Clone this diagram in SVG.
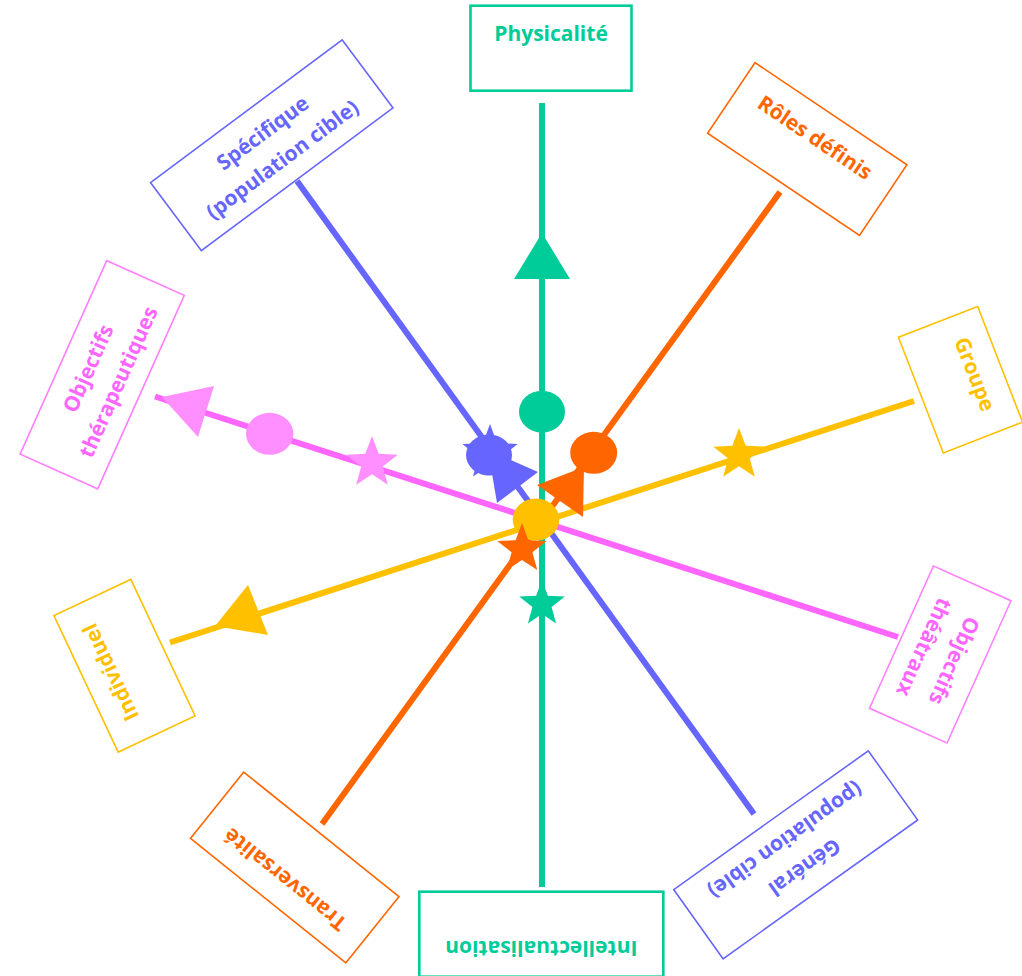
<svg xmlns="http://www.w3.org/2000/svg" xmlns:xlink="http://www.w3.org/1999/xlink" width="1022" height="976" viewBox="0 0 1022 976">
<style>
.lbl{font-family:"Open Sans","Liberation Sans",sans-serif;font-weight:700;font-size:21px;text-anchor:middle}
.box{fill:#fff;stroke-width:1.6}
.gbox{fill:#fff;stroke:#00CC99;stroke-width:2.6}
.ln{stroke-width:6;fill:none}
.green{fill:#00CC99}.blue{fill:#6666FF}.orange{fill:#FF6600}.pink{fill:#FF66FF}.pinkm{fill:#FF8FFF}.gold{fill:#FFC000}
</style>
<defs>
<path id="star" d="M0,-25 L6.17,-8.49 L23.78,-7.73 L9.99,3.24 L14.69,20.23 L0,10.5 L-14.69,20.23 L-9.99,3.24 L-23.78,-7.73 L-6.17,-8.49 Z"/>
</defs>
<rect width="1022" height="976" fill="#fff"/>

<g id="connectors">
<line class="ln" x1="542" y1="103" x2="542" y2="887" stroke="#00CC99"/>
<line class="ln" x1="297" y1="181" x2="754" y2="814" stroke="#6666FF"/>
<line class="ln" x1="780" y1="192" x2="322" y2="824" stroke="#FF6600"/>
<line class="ln" x1="155" y1="396.5" x2="898" y2="637" stroke="#FF66FF" stroke-width="5.5"/>
<line class="ln" x1="170" y1="642.5" x2="914" y2="401" stroke="#FFC000"/>
</g>

<g id="markers">
<polygon class="green" points="542,233 514,279 570,279"/>
<ellipse class="green" cx="542" cy="411.7" rx="23" ry="21"/>
<use xlink:href="#star" class="green" transform="translate(542,604) scale(0.96)"/>

<polygon class="pinkm" points="162,397 214,386 198,437"/>
<ellipse class="pinkm" cx="269.7" cy="433.8" rx="23.7" ry="21"/>
<use xlink:href="#star" class="pinkm" transform="translate(372,463) scale(1.08)"/>

<polygon class="gold" points="215,626 248,585 268,635"/>
<use xlink:href="#star" class="gold" transform="translate(739,455) scale(1.08)"/>

<use xlink:href="#star" class="blue" transform="translate(490,453) scale(1.16)"/>
<polygon class="blue" points="488,450 538,472 497,503"/>
<ellipse class="blue" cx="489" cy="455" rx="23" ry="20.5"/>

<polygon class="orange" points="537,485 584,467 583,517"/>
<ellipse class="orange" cx="593.7" cy="452.8" rx="23.5" ry="21"/>

<ellipse class="gold" cx="536" cy="519.5" rx="23.3" ry="21"/>
<use xlink:href="#star" class="orange" transform="translate(522,549) scale(1.04)"/>
</g>

<g id="node-physicalite" transform="translate(551,48.2)">
<rect class="gbox" x="-80.5" y="-42.5" width="161" height="85"/>
<text class="lbl green" x="0" y="-7.5">Physicalité</text>
</g>

<g id="node-intellectualisation" transform="translate(541.3,934.2) rotate(180)">
<rect class="gbox" x="-122" y="-42.5" width="244" height="85"/>
<text class="lbl green" x="0" y="-7">Intellectualisation</text>
</g>

<g id="node-specifique" transform="translate(271.75,145.25) rotate(-36.7)">
<rect class="box" x="-119.5" y="-42.5" width="239" height="85" stroke="#6666FF"/>
<text class="lbl blue" x="0" y="-8">Spécifique</text>
<text class="lbl blue" x="0" y="25">(population cible)</text>
</g>

<g id="node-general" transform="translate(795.7,854.8) rotate(144.5)">
<rect class="box" x="-119.5" y="-42.5" width="239" height="85" stroke="#6666FF"/>
<text class="lbl blue" x="0" y="-8">Général</text>
<text class="lbl blue" x="0" y="25">(population cible)</text>
</g>

<g id="node-roles" transform="translate(807.25,149) rotate(33.9)">
<rect class="box" x="-91.5" y="-42.5" width="183" height="85" stroke="#FF6600"/>
<text class="lbl orange" x="0" y="-6.5">Rôles définis</text>
</g>

<g id="node-transversalite" transform="translate(294.75,867.5) rotate(-141.3)">
<rect class="box" x="-99.5" y="-42.5" width="199" height="85" stroke="#FF6600"/>
<text class="lbl orange" x="0" y="-8">Transversalité</text>
</g>

<g id="node-groupe" transform="translate(960.5,379.75) rotate(68.8)">
<rect class="box" x="-62" y="-42.5" width="124" height="85" stroke="#FFC000"/>
<text class="lbl gold" x="0" y="-8">Groupe</text>
</g>

<g id="node-individuel" transform="translate(124.5,665.75) rotate(-115.2)">
<rect class="box" x="-75.5" y="-42.5" width="151" height="85" stroke="#FFC000"/>
<text class="lbl gold" x="0" y="-8">Individuel</text>
</g>

<g id="node-therapeutiques" transform="translate(102.2,374.75) rotate(-65.9)">
<rect class="box" x="-106" y="-42.5" width="212" height="85" stroke="#FF80FF"/>
<text class="lbl pink" x="0" y="-8">Objectifs</text>
<text class="lbl pink" x="0" y="25">thérapeutiques</text>
</g>

<g id="node-theatraux" transform="translate(940.25,654.5) rotate(114.2)">
<rect class="box" x="-78" y="-42.5" width="156" height="85" stroke="#FF80FF"/>
<text class="lbl pink" x="0" y="-8">Objectifs</text>
<text class="lbl pink" x="0" y="25">théâtraux</text>
</g>
</svg>
